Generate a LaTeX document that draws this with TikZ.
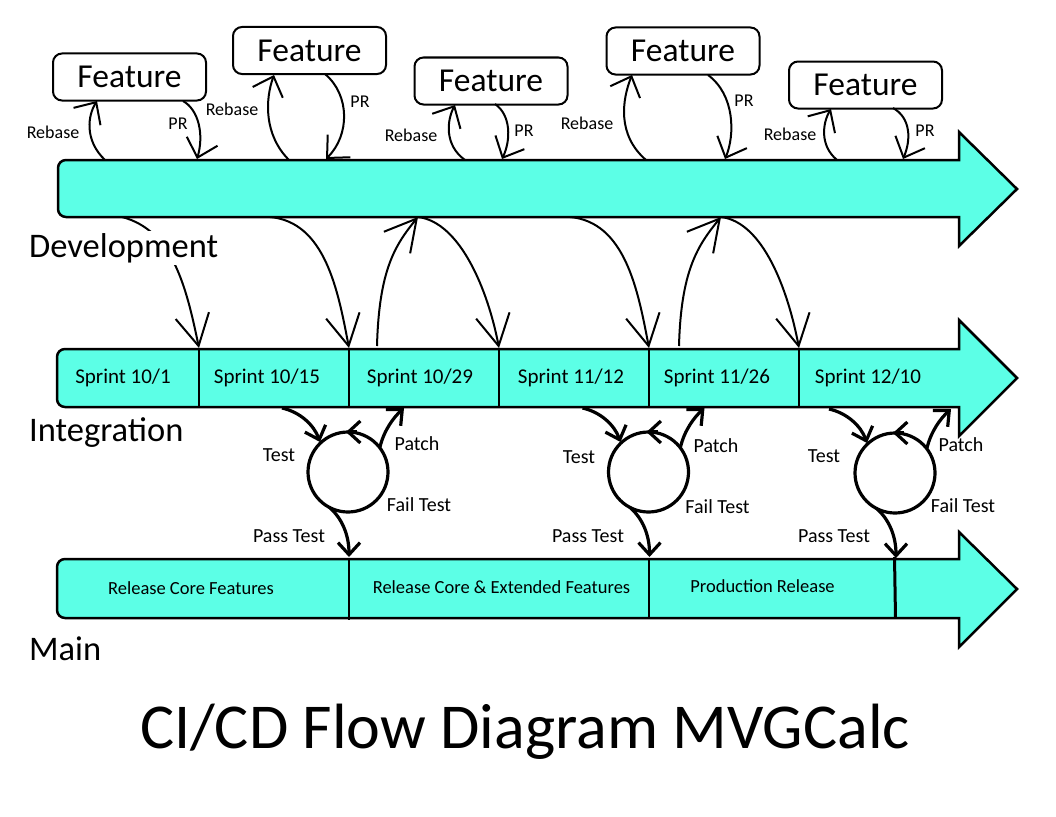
\documentclass[tikz,border=0pt]{standalone}
\usepackage{fontspec}
\setmainfont{Carlito}
\usetikzlibrary{arrows.meta}
\definecolor{flow}{RGB}{92,255,230}
\begin{document}
\begin{tikzpicture}[x=1pt,y=-1pt,
  lane/.style={draw=black, fill=flow, line width=2.5pt, line join=miter},
  featbox/.style={draw, rounded corners=9pt, line width=2pt, minimum width=153pt, minimum height=47pt, inner sep=0pt, font=\fontsize{33.5}{33.5}\selectfont},
  lbl/.style={inner sep=0pt, anchor=base, font=\fontsize{18}{18}\selectfont},
  cyc/.style={inner sep=0pt, anchor=base, font=\fontsize{20}{20}\selectfont},
  sprint/.style={inner sep=0pt, anchor=base, font=\fontsize{21}{21}\selectfont},
  rel/.style={inner sep=0pt, anchor=base, font=\fontsize{18.5}{18.5}\selectfont},
  lanelbl/.style={inner sep=2pt, anchor=base west, font=\fontsize{34.5}{34.5}\selectfont},
  divider/.style={line width=2pt},
  merge/.style={line width=2pt, -{Straight Barb[length=31pt,width=34pt]}},
  fb/.style={line width=2pt, -{Straight Barb[length=17pt,width=32pt]}},
  tc/.style={line width=3.2pt, -{Straight Barb[length=12pt,width=22pt]}},
  circ/.style={circle, draw, line width=3.2pt, minimum size=80pt, inner sep=0pt}
]
\useasboundingbox (0,0) rectangle (1056,816);

% ---- lanes ----
\draw[lane] (500,217) [rounded corners=8pt] -- (58,217) -- (58,160) -- (500,160) [sharp corners] -- (959,160) -- (959,132) -- (1017,189) -- (959,246) -- (959,217) -- cycle;
\draw[lane] (500,407) [rounded corners=8pt] -- (57,407) -- (57,349) -- (500,349) [sharp corners] -- (959,349) -- (959,320) -- (1017,378) -- (959,436) -- (959,407) -- cycle;
\draw[lane] (500,618) [rounded corners=8pt] -- (57,618) -- (57,559) -- (500,559) [sharp corners] -- (959,559) -- (959,532) -- (1017,589) -- (959,647) -- (959,618) -- cycle;

% ---- dividers ----
\foreach \x in {199,349,499,649,799} \draw[divider] (\x,349) -- (\x,407);
\draw[divider] (349,559) -- (349,620);
\draw[divider] (649,559) -- (649,619);
\draw[line width=3pt] (894.5,557) -- (895.5,618);

% ---- lane texts ----
\node[sprint] (s1) at (123,383) {Sprint 10/1};
\node[sprint] (s2) at (267,383) {Sprint 10/15};
\node[sprint] (s3) at (420,383) {Sprint 10/29};
\node[sprint] (s4) at (571,383) {Sprint 11/12};
\node[sprint] (s5) at (717,383) {Sprint 11/26};
\node[sprint] (s6) at (868,383) {Sprint 12/10};
\node[rel] (r1) at (191,594) {Release Core Features};
\node[rel] (r2) at (501.5,593) {Release Core \& Extended Features};
\node[rel] (r3) at (762.5,592) {Production Release};

% ---- feature boxes ----
\node[featbox] (f1) at (129.5,77) {Feature};
\node[featbox] (f2) at (309.5,50.5) {Feature};
\node[featbox] (f3) at (491,81) {Feature};
\node[featbox] (f4) at (683,51) {Feature};
\node[featbox] (f5) at (865.5,85) {Feature};

% ---- rebase / PR ----
\coordinate (rb1) at (105,160); \coordinate (rt1) at (97,101);
\coordinate (pb1) at (197,159); \coordinate (pt1) at (183,101);
\draw[fb] (rb1) .. controls (84,140) and (88,115) .. (rt1);
\draw[fb] (pt1) .. controls (199,110) and (204,135) .. (pb1);

\coordinate (rb2) at (289,160); \coordinate (rt2) at (274,75);
\coordinate (pb2) at (326,159); \coordinate (pt2) at (325,74);
\draw[fb] (rb2) .. controls (264,135) and (265,100) .. (rt2);
\draw[fb] (pt2) .. controls (350,95) and (350,135) .. (pb2);

\coordinate (rb3) at (465,160); \coordinate (rt3) at (455,105);
\coordinate (pb3) at (502,159); \coordinate (pt3) at (495,104);
\draw[fb] (rb3) .. controls (444,145) and (447,120) .. (rt3);
\draw[fb] (pt3) .. controls (511,115) and (511,140) .. (pb3);

\coordinate (rb4) at (646,160); \coordinate (rt4) at (632,75);
\coordinate (pb4) at (725,159); \coordinate (pt4) at (708,75);
\draw[fb] (rb4) .. controls (617,135) and (622,100) .. (rt4);
\draw[fb] (pt4) .. controls (735,95) and (735,135) .. (pb4);

\coordinate (rb5) at (837,160); \coordinate (rt5) at (831,109);
\coordinate (pb5) at (903,159); \coordinate (pt5) at (893,108);
\draw[fb] (rb5) .. controls (819,145) and (823,122) .. (rt5);
\draw[fb] (pt5) .. controls (911,118) and (911,140) .. (pb5);

\node[lbl] (lr1) at (53,138) {Rebase};
\node[lbl] (lr2) at (232,115) {Rebase};
\node[lbl] (lr3) at (411,141) {Rebase};
\node[lbl] (lr4) at (587,129) {Rebase};
\node[lbl] (lr5) at (790,140) {Rebase};
\node[lbl] (lp1) at (178,129) {PR};
\node[lbl] (lp2) at (360,107) {PR};
\node[lbl] (lp3) at (524,136) {PR};
\node[lbl] (lp4) at (744,106) {PR};
\node[lbl] (lp5) at (925,136) {PR};

% ---- development <-> integration ----
\coordinate (d1) at (122,217); \coordinate (i1) at (199,348);
\coordinate (d2) at (270,217); \coordinate (i2) at (349,348);
\coordinate (i3u) at (377,346); \coordinate (d3) at (418,217); \coordinate (i3) at (499,348);
\coordinate (d4) at (570,217); \coordinate (i4) at (649,348);
\coordinate (i5u) at (679,346); \coordinate (d5) at (721,217); \coordinate (i5) at (799,348);
\draw[merge] (d1) .. controls (172,230) and (186,285) .. (i1);
\draw[merge] (d2) .. controls (325,222) and (338,290) .. (i2);
\draw[merge] (i3u) .. controls (379,270) and (395,245) .. (d3);
\draw[merge] (d3) .. controls (460,222) and (488,290) .. (i3);
\draw[merge] (d4) .. controls (625,222) and (638,290) .. (i4);
\draw[merge] (i5u) .. controls (681,270) and (698,245) .. (d5);
\draw[merge] (d5) .. controls (763,222) and (788,290) .. (i5);

% ---- test cycles ----
\foreach \i/\dx/\dy in {1/0/0, 2/300.5/0, 3/547/1} {
  \begin{scope}[shift={(\dx,\dy)}]
    \node[circ] (c\i) at (348,472) {};
    \coordinate (ts\i) at (282,408);
    \coordinate (tt\i) at (320,442);
    \coordinate (ps\i) at (380,447);
    \coordinate (pt\i) at (404,408);
    \coordinate (qs\i) at (329,507);
    \coordinate (qt\i) at (349,557);
    \coordinate (ka\i) at (357,432);
    \coordinate (kb\i) at (346,432);
    \draw[tc] (ts\i) .. controls (300,412) and (314,425) .. (tt\i);
    \draw[tc] (ps\i) .. controls (384,430) and (394,417) .. (pt\i);
    \draw[tc] (qs\i) .. controls (342,518) and (349,535) .. (qt\i);
    \draw[tc] (ka\i) -- (kb\i);
  \end{scope}
}
\node[cyc] (te1) at (279,461) {Test};
\node[cyc] (pa1) at (417,450) {Patch};
\node[cyc] (fa1) at (419,511) {Fail Test};
\node[cyc] (pp1) at (289,542) {Pass Test};
\node[cyc] (te2) at (579,463) {Test};
\node[cyc] (pa2) at (716,452) {Patch};
\node[cyc] (fa2) at (717.5,513) {Fail Test};
\node[cyc] (pp2) at (588,542) {Pass Test};
\node[cyc] (te3) at (824,462) {Test};
\node[cyc] (pa3) at (961,451) {Patch};
\node[cyc] (fa3) at (963,512) {Fail Test};
\node[cyc] (pp3) at (834,542) {Pass Test};

% ---- lane labels ----
\node[lanelbl, fill=white] (ldev) at (27,257) {Development};
\node[lanelbl] (lint) at (27,441) {Integration};
\node[lanelbl] (lmain) at (27,660) {Main};

% ---- title ----
\node[inner sep=0pt, anchor=base, font=\fontsize{64}{64}\selectfont] (title) at (525,748) {CI/CD Flow Diagram MVGCalc};
\end{tikzpicture}
\end{document}
